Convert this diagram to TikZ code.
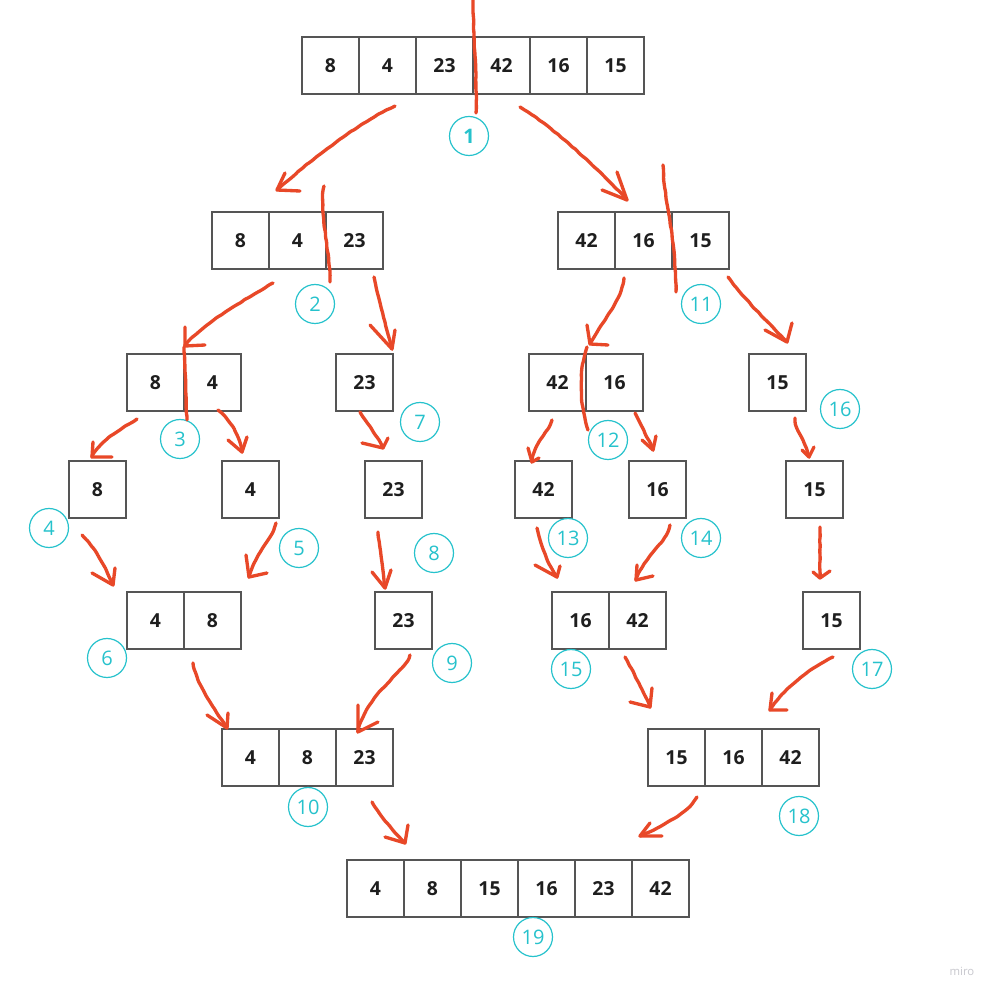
\documentclass[tikz,border=0pt]{standalone}
\usepackage{fontspec}
\setmainfont{Open Sans}
\usetikzlibrary{calc,decorations.pathmorphing}
\definecolor{redink}{RGB}{232,72,40}
\definecolor{cyanink}{RGB}{38,194,204}
\definecolor{boxline}{RGB}{85,85,85}
\definecolor{numink}{RGB}{30,30,30}
\definecolor{miroink}{RGB}{200,200,206}
\newcommand\handarrow[7]{%
  \coordinate (#1s) at (#2); \coordinate (#1t) at (#5);
  \draw[redline,wobble] (#1s) .. controls (#3) and (#4) .. (#1t);
  \draw[redline] (#6) -- (#1t) -- (#7);}
\begin{document}
\begin{tikzpicture}[x=0.75pt,y=-0.75pt,
  cell/.style={draw=boxline,line width=1.1pt,minimum width=42.75pt,minimum height=42.75pt,
    inner sep=0pt,text=numink,font=\fontsize{14.5}{14.5}\selectfont\bfseries},
  stepnum/.style={circle,draw=cyanink,line width=0.9pt,minimum size=29.25pt,inner sep=0pt,
    text=cyanink,font=\fontsize{15}{15}\selectfont},
  redline/.style={draw=redink,line width=2.5pt,line cap=round,line join=round},
  wobble/.style={decorate,decoration={random steps,segment length=3.5pt,amplitude=0.3pt},rounded corners=1pt}]
\pgfmathsetseed{7}
\fill[white] (0,0) rectangle (1001,998);
\useasboundingbox (0,0) rectangle (1001,998);
% row 1
\node[cell] (r1a) at (330.5,65.5) {8};
\node[cell] (r1b) at (387.5,65.5) {4};
\node[cell] (r1c) at (444.5,65.5) {23};
\node[cell] (r1d) at (501.5,65.5) {42};
\node[cell] (r1e) at (558.5,65.5) {16};
\node[cell] (r1f) at (615.5,65.5) {15};
% row 2
\node[cell] (r2a) at (240.5,240.5) {8};
\node[cell] (r2b) at (297.5,240.5) {4};
\node[cell] (r2c) at (354.5,240.5) {23};
\node[cell] (r2d) at (586.5,240.5) {42};
\node[cell] (r2e) at (643.5,240.5) {16};
\node[cell] (r2f) at (700.5,240.5) {15};
% row 3
\node[cell] (r3a) at (155.5,382.5) {8};
\node[cell] (r3b) at (212.5,382.5) {4};
\node[cell] (r3c) at (364.5,382.5) {23};
\node[cell] (r3d) at (557.5,382.5) {42};
\node[cell] (r3e) at (614.5,382.5) {16};
\node[cell] (r3f) at (777.5,382.5) {15};
% row 4
\node[cell] (r4a) at (97.5,489.5) {8};
\node[cell] (r4b) at (250.5,489.5) {4};
\node[cell] (r4c) at (393.5,489.5) {23};
\node[cell] (r4d) at (543.5,489.5) {42};
\node[cell] (r4e) at (657.5,489.5) {16};
\node[cell] (r4f) at (814.5,489.5) {15};
% row 5
\node[cell] (r5a) at (155.5,620.5) {4};
\node[cell] (r5b) at (212.5,620.5) {8};
\node[cell] (r5c) at (403.5,620.5) {23};
\node[cell] (r5d) at (580.5,620.5) {16};
\node[cell] (r5e) at (637.5,620.5) {42};
\node[cell] (r5f) at (831.5,620.5) {15};
% row 6
\node[cell] (r6a) at (250.5,757.5) {4};
\node[cell] (r6b) at (307.5,757.5) {8};
\node[cell] (r6c) at (364.5,757.5) {23};
\node[cell] (r6d) at (676.5,757.5) {15};
\node[cell] (r6e) at (733.5,757.5) {16};
\node[cell] (r6f) at (790.5,757.5) {42};
% row 7
\node[cell] (r7a) at (375.5,888.5) {4};
\node[cell] (r7b) at (432.5,888.5) {8};
\node[cell] (r7c) at (489.5,888.5) {15};
\node[cell] (r7d) at (546.5,888.5) {16};
\node[cell] (r7e) at (603.5,888.5) {23};
\node[cell] (r7f) at (660.5,888.5) {42};
% step numbers
\node[stepnum,font=\fontsize{15}{15}\selectfont\bfseries] (n1) at (469,136) {1};
\node[stepnum] (n2) at (315,304) {2};
\node[stepnum] (n3) at (180,439) {3};
\node[stepnum] (n4) at (49,528) {4};
\node[stepnum] (n5) at (299,548) {5};
\node[stepnum] (n6) at (107,658) {6};
\node[stepnum] (n7) at (420,422) {7};
\node[stepnum] (n8) at (434,553) {8};
\node[stepnum] (n9) at (452,663) {9};
\node[stepnum] (n10) at (308,807) {10};
\node[stepnum] (n11) at (701,304) {11};
\node[stepnum] (n12) at (608,440) {12};
\node[stepnum] (n13) at (568,538) {13};
\node[stepnum] (n14) at (701,538) {14};
\node[stepnum] (n15) at (571,669) {15};
\node[stepnum] (n16) at (840,409) {16};
\node[stepnum] (n17) at (872,669) {17};
\node[stepnum] (n18) at (799,816) {18};
\node[stepnum] (n19) at (533,937) {19};
% split strokes
\coordinate (s1a) at (473,0); \coordinate (s1b) at (476,113);
\draw[redline,wobble] (s1a) .. controls (473,40) and (477,70) .. (s1b);
\coordinate (s2a) at (324,186); \coordinate (s2b) at (330,282);
\draw[redline,wobble] (s2a) .. controls (319,215) and (329,240) .. (s2b);
\coordinate (s3a) at (184,347); \coordinate (s3b) at (187,420);
\draw[redline,wobble] (s3a) .. controls (186,380) and (186,400) .. (s3b);
\coordinate (s11a) at (663,165); \coordinate (s11b) at (676,292);
\draw[redline,wobble] (s11a) .. controls (664,200) and (675,230) .. (s11b);
\coordinate (s12a) at (587,347); \coordinate (s12b) at (588,430);
\draw[redline,wobble] (s12a) .. controls (578,375) and (580,405) .. (s12b);
% arrows
\handarrow{a1}{395,106}{360,122}{310,160}{277,190}{300,191}{285,173}
\handarrow{a2}{520,107}{550,125}{595,165}{627,200}{617,172}{602,190}
\handarrow{a3}{273,283}{235,305}{195,330}{185,346}{205,345}{185,327}
\handarrow{a4}{374,277}{378,295}{385,325}{392,349}{370,325}{395,330}
\handarrow{a5}{137,419}{120,430}{100,440}{92,457}{112,457}{93,442}
\handarrow{a6}{218,410}{230,420}{238,432}{242,452}{228,440}{247,437}
\handarrow{a7}{360,412}{368,425}{377,435}{383,448}{362,443}{388,438}
\handarrow{a8}{82,535}{92,545}{102,560}{113,585}{92,573}{115,568}
\handarrow{a9}{276,523}{272,540}{255,553}{249,577}{246,555}{267,573}
\handarrow{a10}{378,532}{380,550}{383,570}{385,588}{372,572}{391,570}
\handarrow{a11}{193,663}{197,685}{212,705}{227,728}{207,715}{228,713}
\handarrow{a12}{410,655}{405,672}{365,695}{358,732}{358,705}{378,722}
\handarrow{a13}{372,802}{380,815}{392,830}{405,843}{385,837}{408,825}
\handarrow{a14}{697,797}{688,812}{665,825}{640,836}{650,823}{662,836}
\handarrow{a15}{624,278}{622,300}{600,325}{590,344}{587,325}{608,345}
\handarrow{a16}{728,277}{745,300}{768,322}{787,342}{765,330}{792,323}
\handarrow{a17}{552,420}{548,433}{535,440}{532,462}{528,448}{539,458}
\handarrow{a18}{635,413}{640,425}{648,437}{653,450}{642,440}{656,436}
\handarrow{a19}{795,418}{795,430}{805,440}{809,457}{802,450}{814,447}
\handarrow{a20}{537,528}{541,545}{548,565}{557,577}{535,565}{560,566}
\handarrow{a21}{670,525}{665,545}{645,555}{636,580}{637,565}{653,576}
\handarrow{a22}{820,527}{820,545}{820,560}{820,578}{813,572}{830,571}
\handarrow{a23}{625,657}{635,675}{645,695}{650,707}{630,702}{652,688}
\handarrow{a24}{833,657}{810,668}{782,690}{770,710}{772,693}{787,710}
% watermark
\node[text=miroink,font=\fontsize{8.5}{8.5}\selectfont,inner sep=0pt] (miro) at (962,971) {miro};
\end{tikzpicture}
\end{document}
